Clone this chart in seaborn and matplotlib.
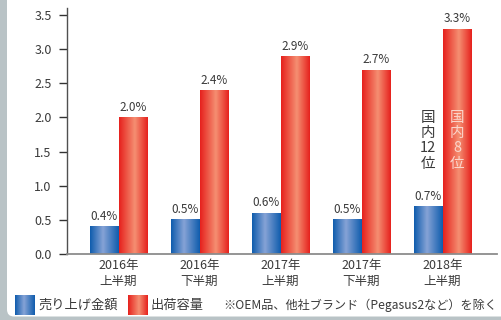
import numpy as np
import pandas as pd
import matplotlib
matplotlib.use("Agg")
import matplotlib.pyplot as plt
from matplotlib.colors import LinearSegmentedColormap, to_rgb
from matplotlib.patches import FancyBboxPatch
from matplotlib.transforms import IdentityTransform
import seaborn as sns

# ---- data ----
periods = ["2016年\n上半期", "2016年\n下半期", "2017年\n上半期", "2017年\n下半期", "2018年\n上半期"]
series_names = ["売り上げ金額", "出荷容量"]
sales_share = [0.4, 0.5, 0.6, 0.5, 0.7]
volume_share = [2.0, 2.4, 2.9, 2.7, 3.3]
y_ticks = [0.0, 0.5, 1.0, 1.5, 2.0, 2.5, 3.0, 3.5]
note_text = "※OEM品、他社ブランド（Pegasus2など）を除く"
rank_sales = "国\n内\n12\n位"
rank_volume = "国\n内\n8\n位"

# ---- style ----
sns.set_theme(style="white")
plt.rcParams["font.family"] = ["Noto Sans CJK JP", "DejaVu Sans"]

TEXT = "#3a3a3a"
BLUE_EDGE, BLUE_MID = "#0f5cad", "#86a3d6"
RED_EDGE, RED_MID = "#e6211d", "#f58f72"

def gradient_row(edge, mid, peak):
    cmap = LinearSegmentedColormap.from_list("g", [(0, edge), (peak, mid), (1, edge)])
    return cmap(np.linspace(0, 1, 128))[np.newaxis, :, :3]

grad = {
    series_names[0]: gradient_row(BLUE_EDGE, BLUE_MID, 0.45),
    series_names[1]: gradient_row(RED_EDGE, RED_MID, 0.55),
}
base = {series_names[0]: BLUE_EDGE, series_names[1]: RED_EDGE}

df = pd.DataFrame({
    "period": periods * 2,
    "series": [series_names[0]] * len(periods) + [series_names[1]] * len(periods),
    "value": sales_share + volume_share,
})

fig = plt.figure(figsize=(5.01, 3.2), dpi=100)
fig.patch.set_facecolor("#b9c3c6")
fig.add_artist(FancyBboxPatch((7, 3.5), 600, 400,
                              boxstyle="round,pad=0,rounding_size=7",
                              transform=IdentityTransform(),
                              fc="white", ec="none", zorder=-5))

ax = fig.add_axes([67 / 501, 66.3 / 320, 430 / 501, 245.7 / 320])
ax.set_facecolor("none")

sns.barplot(data=df, x="period", y="value", hue="series", order=periods,
            hue_order=series_names, palette=base, width=0.73, gap=0.05,
            saturation=1, legend=False, ax=ax)

# replace flat fills with horizontal gradients
bars = [p for p in ax.patches if p.get_height() > 0]
for p in bars:
    fc = p.get_facecolor()[:3]
    key = min(series_names, key=lambda s: np.sum((np.array(to_rgb(base[s])) - fc) ** 2))
    x0, y0, w, h = p.get_x(), p.get_y(), p.get_width(), p.get_height()
    ax.imshow(grad[key], extent=[x0, x0 + w, y0, y0 + h], aspect="auto",
              interpolation="bilinear", zorder=p.get_zorder())
    p.set_facecolor("none")
    p.set_edgecolor("none")

# value labels
ordered = sorted(bars, key=lambda b: b.get_x())
for i, p in enumerate(ordered):
    grp, k = divmod(i, 2)
    v = [sales_share, volume_share][k][grp]
    ax.annotate(f"{v:.1f}%", (p.get_x() + p.get_width() / 2, v),
                xytext=(0, 2.5), textcoords="offset points",
                ha="center", va="bottom", fontsize=8.5, color=TEXT)

# ranking notes on the latest period
last = ordered[-2:]
ax.text(last[0].get_x() + last[0].get_width() / 2, 1.66, rank_sales,
        ha="center", va="center", fontsize=10.5, linespacing=1.12, color=TEXT)
ax.text(last[1].get_x() + last[1].get_width() / 2, 1.66, rank_volume,
        ha="center", va="center", fontsize=10.5, linespacing=1.12, color="#fbd5cb")

ax.set_xlim(-0.636, 4.673)
ax.set_ylim(0, 3.607)
ax.set_yticks(y_ticks)
ax.set_yticklabels([f"{t:.1f}" for t in y_ticks])
ax.set_xlabel("")
ax.set_ylabel("")

for s in ("top", "right"):
    ax.spines[s].set_visible(False)
ax.spines["left"].set_color("#505050")
ax.spines["left"].set_linewidth(1.0)
ax.spines["bottom"].set_color("#8c8c8c")
ax.spines["bottom"].set_linewidth(1.3)

ax.tick_params(axis="y", left=True, length=6, width=1, color="#333333",
               labelsize=9, labelcolor=TEXT, pad=5)
ax.tick_params(axis="x", bottom=False, length=0, labelsize=9, labelcolor=TEXT, pad=4)
for lbl in ax.get_xticklabels():
    lbl.set_linespacing(1.25)

# legend
for (x_px, name) in [(15, series_names[0]), (128, series_names[1])]:
    sw = fig.add_axes([x_px / 501, 1 - 315 / 320, 20 / 501, 20 / 320])
    sw.imshow(grad[name], aspect="auto", interpolation="bilinear")
    sw.set_axis_off()
    fig.text((x_px + 23) / 501, 1 - 305 / 320, name, ha="left", va="center",
             fontsize=9.5, color=TEXT)
fig.text(497 / 501, 1 - 305 / 320, note_text, ha="right", va="center",
         fontsize=8.7, color=TEXT)

fig.savefig("out.png", dpi=100)
